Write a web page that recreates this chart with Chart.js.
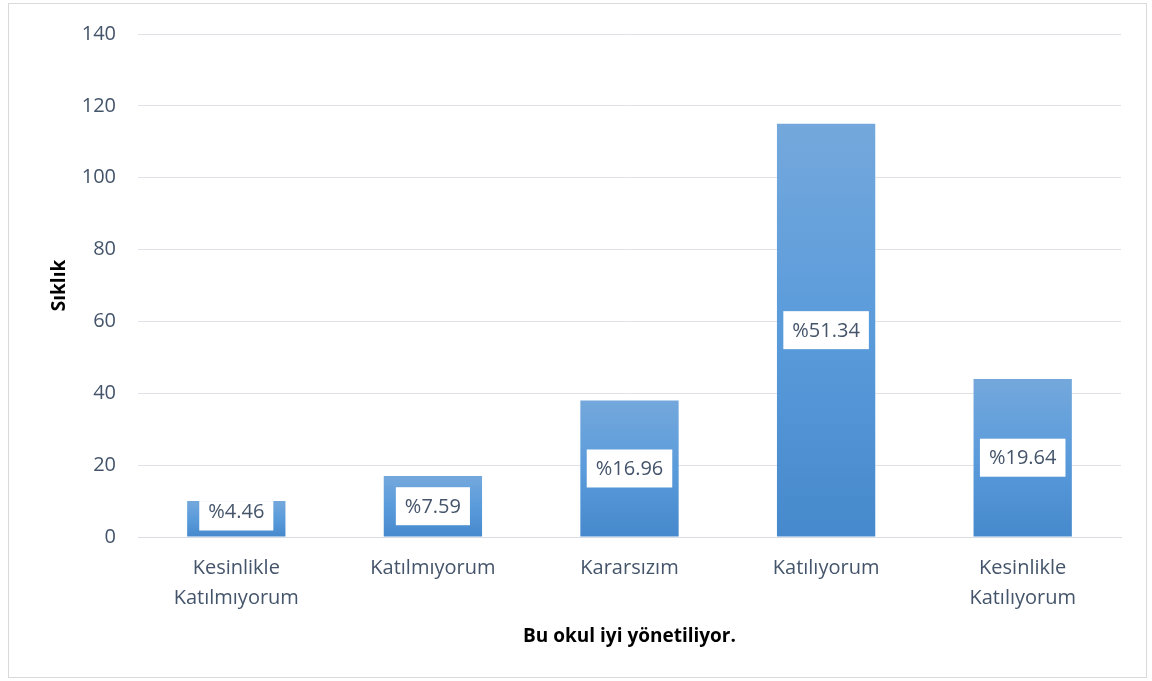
<!DOCTYPE html>
<html>
<head>
<meta charset="utf-8">
<script src="https://cdn.jsdelivr.net/npm/chart.js@4.4.1/dist/chart.umd.min.js"></script>
<style>
  html, body { margin: 0; padding: 0; background: #fff; }
  #frame { position: absolute; left: 8px; top: 3px; width: 1139px; height: 675px; border: 1px solid #d9d9d9; box-sizing: border-box; }
  #wrap { position: absolute; left: 0; top: 0; width: 1152px; height: 681px; }
</style>
</head>
<body>
<div id="frame"></div>
<div id="wrap"><canvas id="chart" width="1152" height="681"></canvas></div>
<script>
// values
const categories = [['Kesinlikle', 'Katılmıyorum'], 'Katılmıyorum', 'Kararsızım', 'Katılıyorum', ['Kesinlikle', 'Katılıyorum']];
const frequencies = [10, 17, 38, 115, 44];
const percentLabels = ['%4.46', '%7.59', '%16.96', '%51.34', '%19.64'];
const yTicks = [0, 20, 40, 60, 80, 100, 120, 140];

const textColor = '#44546a';
const fontFamily = '"Open Sans", "Noto Sans", sans-serif';

function barGradient(ctx) {
    const chart = ctx.chart;
    const area = chart.chartArea;
    if (!area || ctx.dataIndex === undefined) return '#5b9bd5';
    const y = chart.scales.y;
    const top = y.getPixelForValue(frequencies[ctx.dataIndex]);
    const base = y.getPixelForValue(0);
    const g = chart.ctx.createLinearGradient(0, top, 0, base);
    g.addColorStop(0, '#74a8dc');
    g.addColorStop(0.5, '#5a9bdb');
    g.addColorStop(1, '#4689cc');
    return g;
}

// white label boxes inside the bars, kept inside the bar like the original
const boxLabels = {
    id: 'boxLabels',
    afterDatasetsDraw(chart) {
        const c = chart.ctx;
        const meta = chart.getDatasetMeta(0);
        c.save();
        c.font = '20px ' + fontFamily;
        c.textAlign = 'center';
        c.textBaseline = 'middle';
        meta.data.forEach((bar, i) => {
            const text = percentLabels[i];
            const w = c.measureText(text).width + 18;
            const h = 38;
            const cx = bar.x;
            let cy = (bar.y + bar.base) / 2;
            if (cy + h / 2 > bar.base - 6) cy = bar.base - 6 - h / 2;
            const top = Math.max(cy - h / 2, bar.y);
            c.fillStyle = '#ffffff';
            c.fillRect(cx - w / 2, top, w, cy + h / 2 - top);
            c.fillStyle = textColor;
            c.fillText(text, cx, cy + 1);
        });
        c.restore();
    }
};

new Chart(document.getElementById('chart'), {
    type: 'bar',
    data: {
        labels: categories,
        datasets: [{
            data: frequencies,
            backgroundColor: barGradient,
            borderWidth: 0,
            categoryPercentage: 1,
            barPercentage: 0.5
        }]
    },
    options: {
        responsive: false,
        animation: false,
        layout: { padding: { left: 48, right: 31, top: 18, bottom: 33 } },
        plugins: { legend: { display: false }, tooltip: { enabled: false } },
        scales: {
            x: {
                grid: { display: false, drawTicks: false },
                border: { color: '#d9dde3', width: 1 },
                ticks: { color: textColor, font: { family: fontFamily, size: 20, lineHeight: 1.5 }, padding: 16, maxRotation: 0 },
                title: { display: true, text: 'Bu okul iyi yönetiliyor.', color: '#000', font: { family: fontFamily, size: 19, weight: 'bold' }, padding: { top: 0, bottom: 0 } },
                afterFit: (s) => { s.height = 111; }
            },
            y: {
                min: 0,
                max: 140,
                afterBuildTicks: (s) => { s.ticks = yTicks.map(v => ({ value: v })); },
                grid: { color: '#dfe3e8', lineWidth: 1, drawTicks: false },
                border: { display: false },
                ticks: { color: textColor, font: { family: fontFamily, size: 20 }, padding: 22 },
                title: { display: true, text: 'Sıklık', color: '#000', font: { family: fontFamily, size: 19, weight: 'bold' }, padding: { top: 0, bottom: 0 } },
                afterFit: (s) => { s.width = 90; }
            }
        }
    },
    plugins: [boxLabels]
});
</script>
</body>
</html>
